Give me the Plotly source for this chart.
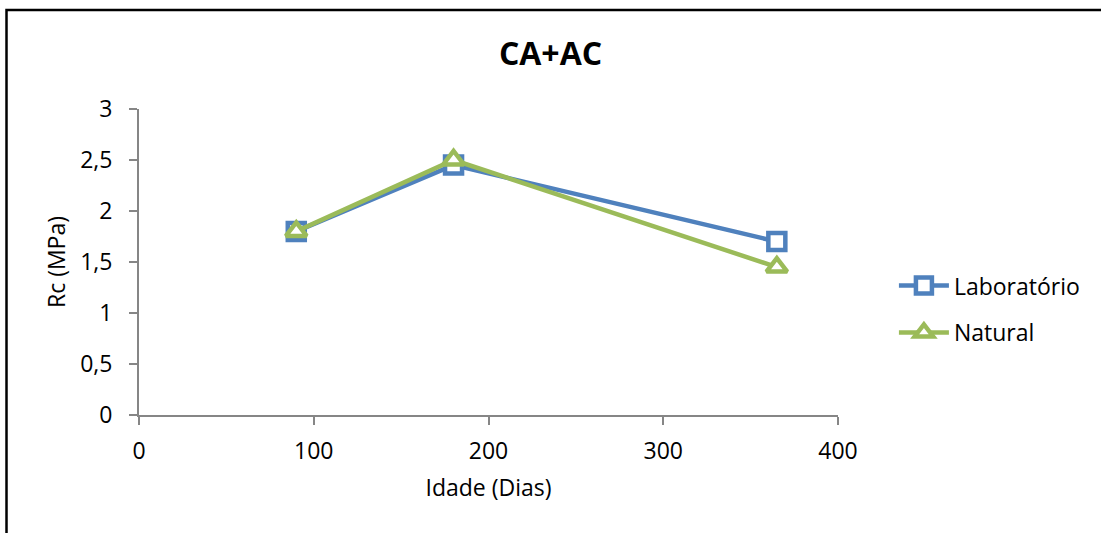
import plotly.graph_objects as go

# dados
idade = [90, 180, 365]
rc_laboratorio = [1.8, 2.45, 1.7]
rc_natural = [1.8, 2.5, 1.45]
y_ticks = [0, 0.5, 1, 1.5, 2, 2.5, 3]
y_labels = ["0", "0,5", "1", "1,5", "2", "2,5", "3"]

azul = "#4F81BD"
verde = "#9BBB59"
eixo = "#868686"
fonte = "Open Sans"

fig = go.Figure()
fig.add_trace(go.Scatter(x=idade, y=rc_laboratorio, name="Laboratório", mode="lines+markers",
    line=dict(color=azul, width=4.5), legendgroup="a",
    marker=dict(symbol="square", size=17, color="white", line=dict(color=azul, width=4.5))))
fig.add_trace(go.Scatter(x=idade, y=rc_natural, name="Natural", mode="lines+markers",
    line=dict(color=verde, width=4.5), legendgroup="b",
    marker=dict(symbol="triangle-up", size=18, color="white", line=dict(color=verde, width=4.5))))

fig.update_layout(
    width=1101, height=533,
    margin=dict(l=139, r=263, t=109, b=118),
    plot_bgcolor="white", paper_bgcolor="white",
    font=dict(family=fonte, size=23, color="black"),
    title=dict(text="<b>CA+AC</b>", x=0.5, xanchor="center", y=0.9, yanchor="middle",
               font=dict(size=32, family=fonte)),
    legend=dict(x=1.08, xanchor="left", y=0.346, yanchor="middle", itemwidth=50,
                font=dict(size=23), tracegroupgap=14, traceorder="grouped"),
    showlegend=True,
)
fig.update_xaxes(range=[0, 400], tickvals=[0, 100, 200, 300, 400],
    showline=True, linecolor=eixo, linewidth=2, ticks="outside", ticklen=8,
    tickcolor=eixo, tickwidth=2, showgrid=False, zeroline=False, ticklabelstandoff=6,
    title=dict(text="Idade (Dias)", standoff=15, font=dict(size=23)))
fig.update_yaxes(range=[0, 3], tickvals=y_ticks, ticktext=y_labels,
    showline=True, linecolor=eixo, linewidth=2, ticks="outside", ticklen=8,
    tickcolor=eixo, tickwidth=2, showgrid=False, zeroline=False, ticklabelstandoff=12,
    title=dict(text="Rc (MPa)", standoff=8, font=dict(size=23)))

# moldura preta do gráfico (corta à direita e em baixo)
fig.add_shape(type="rect", xref="paper", yref="paper",
    x0=(6.5 - 139) / 699, x1=(1115 - 139) / 699,
    y0=(415 - 545) / 306, y1=(415 - 10) / 306,
    line=dict(color="black", width=2.5), fillcolor="rgba(0,0,0,0)", layer="below")

# sem margem no body para a moldura caber
fig.write_html("out.html", config={"displayModeBar": False},
               post_script="document.body.style.margin='0';")
